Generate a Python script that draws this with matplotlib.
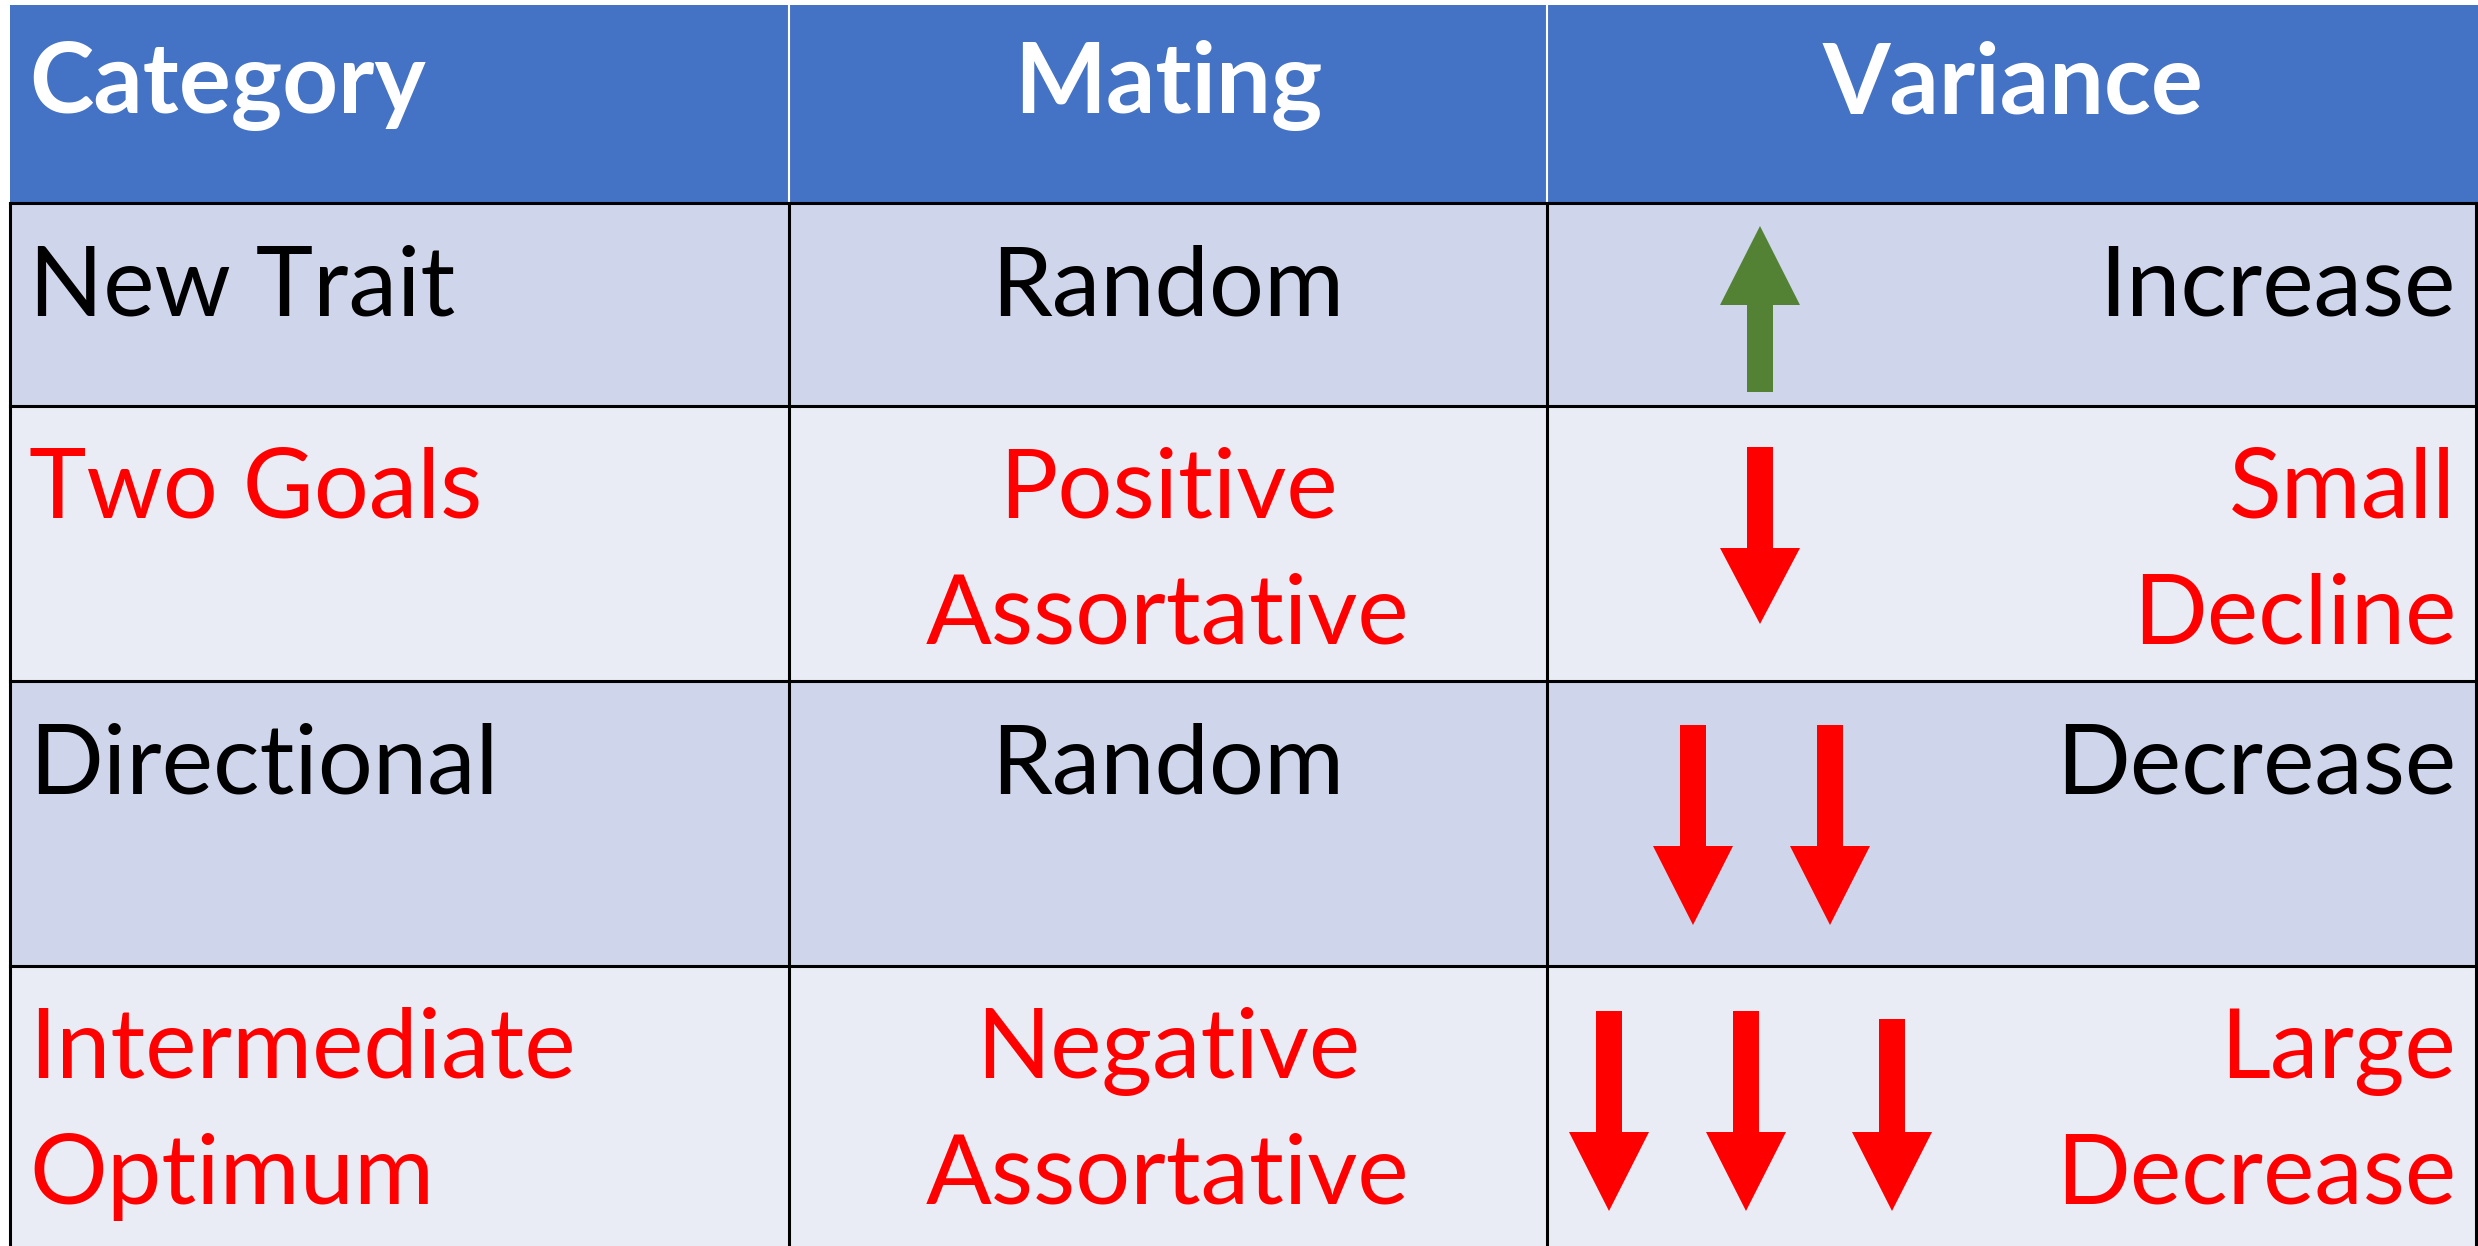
import matplotlib.pyplot as plt
from matplotlib.patches import Rectangle, Polygon

# table content
headers = ["Category", "Mating", "Variance"]
categories = ["New Trait", "Two Goals", "Directional", "Intermediate\nOptimum"]
mating = ["Random", "Positive\nAssortative", "Random", "Negative\nAssortative"]
variance = ["Increase", "Small\nDecline", "Decrease", "Large\nDecrease"]
arrow_counts = [1, 1, 2, 3]
arrow_up = [True, False, False, False]
text_red = [False, True, False, True]

W, H = 2478, 1246
col_x = [10, 789, 1547, 2478]
row_y = [5, 203, 406, 681, 966, 1246]

HEADER_BG = "#4472C4"
ROW_BG = ["#CFD5EA", "#E9EBF5"]
RED = "#FF0000"
GREEN = "#548235"
FONT = "Lato"
FS = 70
LINE = 126
BASE = 112

fig = plt.figure(figsize=(W / 100, H / 100), dpi=100)
ax = fig.add_axes([0, 0, 1, 1])
ax.set_xlim(0, W)
ax.set_ylim(H, 0)
ax.axis("off")

# header
ax.add_patch(Rectangle((col_x[0], row_y[0]), col_x[-1] - col_x[0], row_y[1] - row_y[0],
                       facecolor=HEADER_BG, edgecolor="none"))
for i, h in enumerate(headers):
    if i == 0:
        x, ha = col_x[0] + 19, "left"
    else:
        x, ha = (col_x[i] + col_x[i + 1]) / 2, "center"
    ax.text(x, row_y[0] + 108, h, ha=ha, va="baseline", color="white",
            fontsize=FS, fontweight="bold", family=FONT)
for x in col_x[1:-1]:
    ax.plot([x, x], [row_y[0], row_y[1]], color="white", lw=1.5)

# body rows
for r in range(len(categories)):
    top, bot = row_y[r + 1], row_y[r + 2]
    ax.add_patch(Rectangle((col_x[0], top), col_x[-1] - col_x[0], bot - top,
                           facecolor=ROW_BG[r % 2], edgecolor="none"))
    color = RED if text_red[r] else "black"
    cells = [(categories[r], col_x[0] + 19, "left"),
             (mating[r], (col_x[1] + col_x[2]) / 2, "center"),
             (variance[r], col_x[3] - 22, "right")]
    for txt, x, ha in cells:
        for k, line in enumerate(txt.split("\n")):
            ax.text(x, top + BASE + k * LINE, line, ha=ha, va="baseline",
                    color=color, fontsize=FS, family=FONT)

    # arrows
    n = arrow_counts[r]
    if arrow_up[r]:
        xs = [1760]
        tip, base, tail = 226, 305, 392
        col = GREEN
    else:
        col = RED
        if n == 1:
            xs = [1760]
            tail, base, tip = top + 41, top + 142, top + 218
        elif n == 2:
            xs = [1693, 1830]
            tail, base, tip = top + 44, top + 165, top + 244
        else:
            xs = [1609, 1746, 1892]
            tail, base, tip = top + 45, top + 166, top + 245
    for j, xc in enumerate(xs):
        t = tail + (8 if (n == 3 and j == 2) else 0)
        hw, sw = 40, 13
        pts = [(xc - sw, t), (xc + sw, t), (xc + sw, base), (xc + hw, base),
               (xc, tip), (xc - hw, base), (xc - sw, base)]
        ax.add_patch(Polygon(pts, closed=True, facecolor=col, edgecolor="none"))

# grid lines
for y in row_y[1:-1]:
    ax.plot([col_x[0], col_x[-1]], [y, y], color="black", lw=2.2)
for x in col_x[1:-1]:
    ax.plot([x, x], [row_y[1], row_y[-1]], color="black", lw=2.2)
ax.plot([col_x[0], col_x[0]], [row_y[1], row_y[-1]], color="black", lw=2.2)
ax.plot([col_x[-1] - 2, col_x[-1] - 2], [row_y[1], row_y[-1]], color="black", lw=2.2)

fig.savefig("out.png", dpi=100)
